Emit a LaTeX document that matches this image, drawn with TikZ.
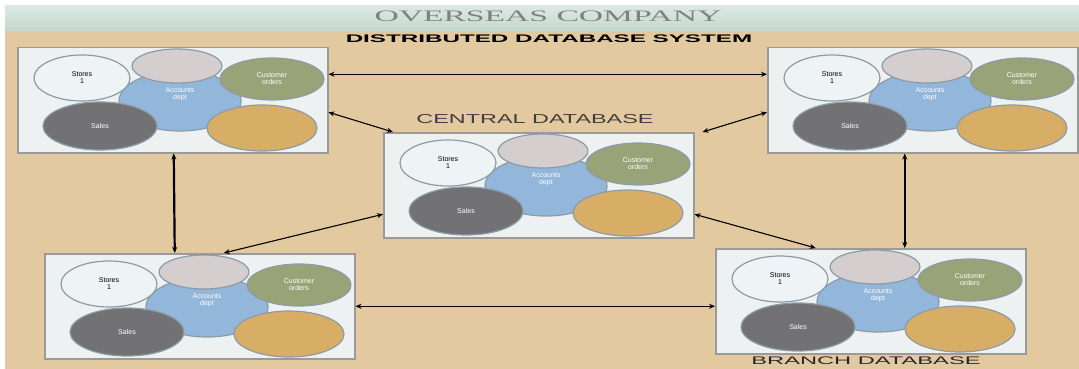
\documentclass[tikz,border=0pt]{standalone}
\usepackage{fontspec}
\setmainfont{Liberation Serif}
\setsansfont{Liberation Sans}
\usetikzlibrary{shapes.geometric,arrows.meta}
\definecolor{bgtan}{HTML}{E3C9A0}
\definecolor{bandteal}{HTML}{C4D8D0}
\definecolor{bandtop}{HTML}{DCE8E3}
\definecolor{boxfill}{HTML}{EEF1F1}
\definecolor{boxline}{HTML}{9A9B98}
\definecolor{blobline}{HTML}{8C9CA6}
\definecolor{whiteblob}{HTML}{EEF3F6}
\definecolor{pinkblob}{HTML}{D5CECE}
\definecolor{greenblob}{HTML}{99A378}
\definecolor{blueblob}{HTML}{93B6DB}
\definecolor{grayblob}{HTML}{727275}
\definecolor{tanblob}{HTML}{D8AE66}
\tikzset{dbbox/.style={
    rectangle,
    draw=boxline,
    fill=boxfill,
    line width=1.5pt,
    inner sep=0pt,
    minimum width=310pt,
    minimum height=105pt
  },
  blob/.style={ellipse,draw=blobline,line width=1.2pt,inner sep=0pt,align=center,
    font=\sffamily\fontsize{7}{7}\selectfont},
  link/.style={{Stealth[length=6pt,width=5pt]}-{Stealth[length=6pt,width=5pt]},line width=1.1pt},
  thicklink/.style={link,line width=2.2pt},
  headtext/.style={font=\sffamily\fontsize{13}{13}\selectfont,text=black!75},
}
% one database site: box with its blobs
\newcommand{\dbunit}[2]{%
  \node[dbbox,anchor=north west] (#1) at (#2) {};
  \begin{scope}[shift={(#1.north west)}]
    \node[blob,fill=blueblob,text=white,minimum width=122pt,minimum height=60pt] (#1-acc) at (163,54) {Accounts\\dept\\[8pt]};
    \node[blob,fill=whiteblob,minimum width=96pt,minimum height=46pt] (#1-st) at (65,31) {Stores\\1};
    \node[blob,fill=pinkblob,minimum width=90pt,minimum height=34pt] (#1-pk) at (160,19) {};
    \node[blob,fill=greenblob,text=white,minimum width=104pt,minimum height=42pt] (#1-cu) at (255,32) {Customer\\orders};
    \node[blob,fill=grayblob,text=white,minimum width=114pt,minimum height=48pt] (#1-sa) at (83,79) {Sales};
    \node[blob,fill=tanblob,minimum width=110pt,minimum height=46pt] (#1-tn) at (245,81) {};
  \end{scope}}

\begin{document}
\begin{tikzpicture}[x=1pt,y=-1pt]
  \useasboundingbox (0,0) rectangle (1079,369);
  \fill[white] (0,0) rectangle (1079,369);
  \shade[top color=bandtop,bottom color=bandteal] (5,6) rectangle (1079,31);
  \fill[bgtan] (5,31) rectangle (1079,369);
  \node[font=\fontsize{16}{16}\selectfont,text=black!50] (title) at (548,16) {\scalebox{2.1}[1]{OVERSEAS COMPANY}};
  \node[font=\sffamily\bfseries\fontsize{11}{11}\selectfont] (system) at (549,39) {\scalebox{2.2}[1]{DISTRIBUTED DATABASE SYSTEM}};
  \node[headtext] (cenlbl) at (535,119) {\scalebox{1.8}[1]{CENTRAL DATABASE}};
  \node[headtext,font=\sffamily\fontsize{11}{11}\selectfont,text=black!85,inner sep=1pt] (brlbl) at (866,361) {\scalebox{2.15}[1]{BRANCH DATABASE}};

  \dbunit{tl}{17,47}
  \dbunit{tr}{767,47}
  \dbunit{cen}{383,132}
  \dbunit{bl}{44,253}
  \dbunit{br}{715,248}

  \draw[link] ([yshift=26pt]tl.east) -- ([yshift=26pt]tr.west);
  \draw[link] ([yshift=-12pt]tl.east) -- ([xshift=10pt]cen.north west);
  \draw[link] ([yshift=-12pt]tr.west) -- ([xshift=8pt]cen.north east);
  \draw[thicklink] ([xshift=1pt]tl.south) -- ([xshift=-25pt]bl.north);
  \draw[thicklink] ([xshift=-18pt]tr.south) -- ([xshift=34pt]br.north);
  \draw[link] ([yshift=-29pt]cen.west) -- ([xshift=24pt]bl.north);
  \draw[link] ([yshift=-29pt]cen.east) -- ([xshift=-55pt]br.north);
  \draw[link] (bl.east) -- (bl.east -| br.west);
\end{tikzpicture}
\end{document}
